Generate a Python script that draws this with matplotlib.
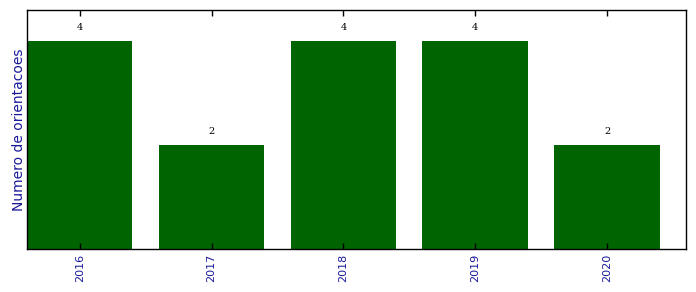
import matplotlib
matplotlib.use("Agg")
import matplotlib.pyplot as plt
import numpy as np

anos = ["2016", "2017", "2018", "2019", "2020"]
orientacoes = [4, 2, 4, 4, 2]

fig = plt.figure(figsize=(6.96, 2.92), dpi=100)
ax = fig.add_axes([0.0388, 0.147, 0.947, 0.819])

x = np.arange(len(anos))
bars = ax.bar(x, orientacoes, width=0.8, color="#006400", linewidth=0)

# valores acima das barras
for b, v in zip(bars, orientacoes):
    ax.text(b.get_x() + b.get_width() / 2, v + 0.18, str(v),
            ha="center", va="bottom", fontsize=7, family="DejaVu Serif")

ax.set_xlim(-0.4, len(anos) - 0.4)
ax.set_ylim(0, max(orientacoes) * 1.15)
ax.set_xticks(x)
ax.set_xticklabels(anos, rotation=90, color="#1a1a9a", fontsize=8)
ax.set_yticks([])
ax.tick_params(axis="x", direction="in", top=True, length=4, width=1)
ax.set_ylabel("Numero de orientacoes", color="#1a1a9a", fontsize=10, labelpad=1)
for s in ax.spines.values():
    s.set_linewidth(1)

fig.savefig("out.png", dpi=100)
